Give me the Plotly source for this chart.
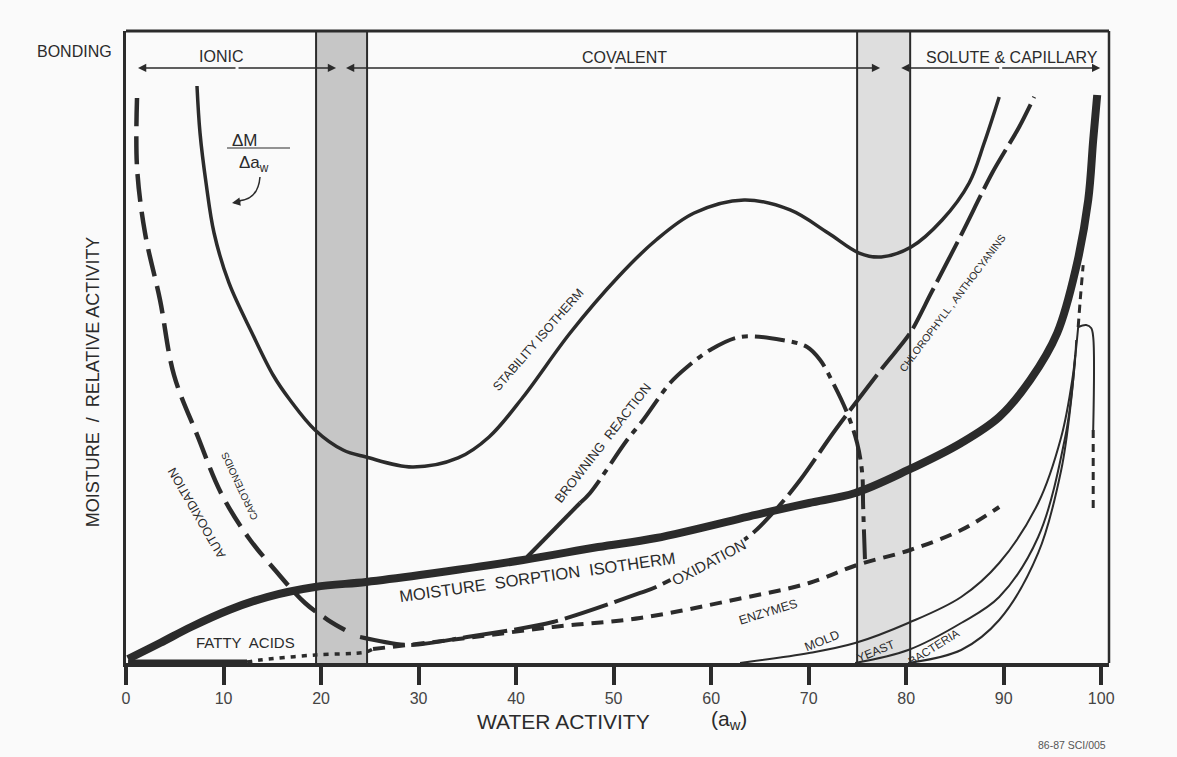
import plotly.graph_objects as go

INK = "#2b2b2b"
PAPER = "#fafafa"
FONT = "Liberation Sans, Arial, Helvetica, sans-serif"

# ---- x axis ticks ----
tick_vals = [0, 10, 20, 30, 40, 50, 60, 70, 80, 90, 100]
tick_text = ["0", "10", "20", "30", "40", "50", "60", "70", "80", "90", "100"]

# ---- curves (x = water activity %, y = relative scale 0-100) ----
iso_x = [0.21, 3.49, 6.67, 10.56, 14.46, 19.38, 24.62, 30.15, 40.72, 48.41, 54.36, 65.33, 70.05,
         74.77, 80.21, 85.64, 89.54, 92.72, 95.49, 97.44, 98.67, 99.18, 99.59]
iso_y = [0.63, 3.16, 5.70, 8.39, 10.44, 12.03, 12.82, 13.92, 16.30, 18.35, 19.78, 23.73, 25.32,
         26.90, 30.54, 34.81, 38.92, 44.78, 52.22, 62.66, 73.26, 82.75, 89.87]

stab_x = [7.28, 7.59, 8.21, 9.03, 10.56, 12.92, 15.08, 16.82, 19.38, 22.26, 24.62, 29.33, 34.05,
          37.23, 40.72, 45.54, 50.46, 54.36, 58.26, 63.38, 68.1, 72.0, 75.18, 77.44, 80.51,
          83.69, 86.46, 88.0, 89.54]
stab_y = [91.30, 83.86, 75.95, 68.04, 60.13, 52.22, 45.57, 41.61, 36.87, 33.70, 32.59, 31.01, 32.44,
          35.76, 42.09, 52.22, 61.08, 66.93, 71.20, 73.26, 71.68, 68.04, 64.87, 64.24, 65.82,
          70.09, 75.95, 82.28, 89.56]

autox_x = [1.13, 1.13, 1.95, 3.49, 4.92, 7.38, 9.74, 12.51, 15.28, 18.36, 20.72, 22.46]
autox_y = [89.40, 78.48, 68.04, 57.44, 45.57, 35.76, 26.90, 19.94, 14.72, 9.49, 6.80, 5.22]

oxid_x = [24.0, 28.92, 34.97, 43.79, 52.72, 54.36, 63.79, 66.87, 69.13, 72.51, 74.26, 77.64,
          80.41, 82.56, 85.74, 88.82, 91.59, 93.13]
oxid_y = [4.11, 2.85, 4.11, 6.49, 11.08, 12.03, 19.94, 24.68, 28.96, 36.39, 40.03, 46.84,
          52.22, 58.54, 68.04, 77.53, 84.81, 89.56]

brown_x = [41.13, 46.56, 47.59, 51.38, 53.03, 55.79, 57.54, 59.9, 62.97, 67.28, 69.85, 71.18,
           72.51, 73.95, 74.97, 75.49, 75.59, 75.79]
brown_y = [16.77, 25.32, 26.90, 35.28, 38.45, 44.30, 46.84, 49.53, 51.58, 51.11, 50.0, 47.94,
           44.30, 39.56, 34.81, 30.06, 24.68, 15.82]

enz_x = [25.33, 28.92, 34.97, 43.79, 52.72, 62.26, 70.05, 74.97, 80.41, 85.64, 89.54]
enz_y = [2.22, 2.85, 3.96, 5.70, 7.12, 9.97, 12.66, 15.51, 17.88, 21.04, 24.68]

fatty_solid_x = [0.21, 12.41]
fatty_solid_y = [0.16, 0.16]
fatty_dot_x = [12.41, 13.74, 19.38, 24.62, 25.33]
fatty_dot_y = [0.16, 0.47, 1.27, 1.74, 2.22]

mold_x = [62.97, 70.05, 74.77, 80.21, 85.64, 89.54, 93.54, 95.9, 97.03, 97.64]
mold_y = [0.0, 1.58, 3.16, 6.33, 10.44, 15.82, 25.32, 35.76, 44.78, 53.16]
yeast_x = [74.77, 80.21, 85.64, 89.54, 93.54, 96.31, 97.23, 97.44]
yeast_y = [0.0, 2.06, 6.33, 10.44, 19.94, 35.76, 46.36, 51.11]
bact_x = [80.21, 85.64, 89.54, 93.54, 95.9, 96.92, 97.33]
bact_y = [0.0, 2.06, 6.80, 17.41, 30.54, 41.61, 48.73]

loop_x = [97.64, 98.46, 98.97, 99.18, 99.18]
loop_y = [53.16, 53.48, 53.0, 51.58, 36.87]
loop_dash_x = [99.18, 99.18]
loop_dash_y = [36.87, 23.73]
top_dash_x = [97.64, 97.85, 98.15]
top_dash_y = [53.16, 57.44, 62.97]

# ---- shaded transition bands ----
band_left = [19.49, 24.72]
band_right = [74.97, 80.41]

# ---- header (bonding) ----
bond_y = 94.15
bond_segments = [(1.23, 21.54), (22.56, 77.33), (79.49, 99.9)]
header_labels = ["IONIC", "COVALENT", "SOLUTE & CAPILLARY"]
header_x = [9.74, 51.08, 90.87]
header_y = [95.89, 95.73, 95.73]

# ---- in-plot labels: text, x, y, angle, size ----
labels = ["AUTOOXIDATION", "CAROTENOIDS", "STABILITY ISOTHERM", "BROWNING  REACTION",
          "MOISTURE  SORPTION  ISOTHERM", "OXIDATION", "ENZYMES", "MOLD", "YEAST", "BACTERIA",
          "CHLOROPHYLL , ANTHOCYANINS", "FATTY  ACIDS"]
label_x = [7.28, 11.59, 42.26, 48.82, 42.15, 59.69, 65.85, 71.38, 76.92, 82.87, 84.72, 12.21]
label_y = [23.73, 28.0, 51.11, 34.81, 13.61, 15.98, 8.07, 3.48, 1.90, 2.53, 56.96, 3.32]
label_angle = [-120, -115, -49, -52, -8, -28, -17, -22, -22, -32, -53, 0]
label_size = [12.5, 10, 12.5, 13, 16.5, 15, 12.5, 12.5, 12, 11.5, 10.5, 15]

# ---- texts outside the plotting area (paper fractions) ----
outer_labels = ["BONDING", "MOISTURE  /  RELATIVE ACTIVITY", "WATER ACTIVITY",
                "(a<sub>w</sub>)", "86-87 SCI/005"]
outer_x = [-0.052, -0.034, 0.445, 0.613, 0.962]
outer_y = [0.967, 0.445, -0.093, -0.090, -0.130]
outer_angle = [0, -90, 0, 0, 0]
outer_size = [16, 18, 21, 21, 10.5]

fig = go.Figure()

def add_line(x, y, width, dash="solid", shape="spline", smoothing=1.0):
    fig.add_trace(go.Scatter(
        x=x, y=y, mode="lines",
        line=dict(color=INK, width=width, dash=dash, shape=shape,
                  smoothing=smoothing if shape == "spline" else None),
        hoverinfo="skip", showlegend=False))

add_line(stab_x, stab_y, 3.5)
add_line(autox_x, autox_y, 4.5, dash="28px,10px")
add_line(oxid_x, oxid_y, 4.0, dash="45px,7px", smoothing=0.8)
add_line(brown_x[:2], brown_y[:2], 4.0, shape="linear")
add_line(brown_x[1:], brown_y[1:], 4.0, dash="30px,7px,6px,7px")
add_line(enz_x, enz_y, 4.0, dash="12px,8px")
add_line(fatty_solid_x, fatty_solid_y, 5.0, shape="linear")
add_line(fatty_dot_x, fatty_dot_y, 3.5, dash="5px,6px")
add_line(mold_x, mold_y, 2.0)
add_line(yeast_x, yeast_y, 2.0)
add_line(bact_x, bact_y, 2.0)
add_line(loop_x, loop_y, 2.0)
add_line(loop_dash_x, loop_dash_y, 3.0, dash="8px,6px", shape="linear")
add_line(top_dash_x, top_dash_y, 3.0, dash="8px,6px")
add_line(iso_x, iso_y, 8.0)

shapes = []
for (b0, b1), col in ((band_left, "#c6c6c6"), (band_right, "#dedede")):
    shapes.append(dict(type="rect", xref="x", yref="y", x0=b0, x1=b1, y0=0, y1=100,
                       fillcolor=col, line=dict(width=0), layer="below"))
    for bx in (b0, b1):
        shapes.append(dict(type="line", xref="x", yref="y", x0=bx, x1=bx, y0=0, y1=100,
                           line=dict(color=INK, width=2)))
# frame top & right
shapes.append(dict(type="line", xref="paper", yref="paper", x0=0, x1=1, y0=1, y1=1,
                   line=dict(color=INK, width=3)))
shapes.append(dict(type="line", xref="paper", yref="paper", x0=1, x1=1, y0=0, y1=1,
                   line=dict(color=INK, width=2.5)))
# delta M fraction bar and curved pointer
shapes.append(dict(type="line", xref="x", yref="y", x0=10.36, x1=16.82, y0=81.49, y1=81.49,
                   line=dict(color=INK, width=1.2)))
shapes.append(dict(type="path", xref="x", yref="y",
                   path="M 13.74,76.9 Q 13.54,73.26 11.49,73.1",
                   line=dict(color=INK, width=1.5)))

annotations = []
for xs, xe in bond_segments:
    mid = (xs + xe) / 2
    for end in (xs, xe):
        annotations.append(dict(x=end, y=bond_y, ax=mid, ay=bond_y, xref="x", yref="y",
                                axref="x", ayref="y", text="", showarrow=True,
                                arrowhead=2, arrowsize=1.1, arrowwidth=1.5, arrowcolor=INK))
annotations.append(dict(x=10.87, y=72.78, ax=11.9, ay=73.05, xref="x", yref="y",
                        axref="x", ayref="y", text="", showarrow=True,
                        arrowhead=2, arrowsize=1.1, arrowwidth=1.5, arrowcolor=INK))

for t, hx, hy in zip(header_labels, header_x, header_y):
    annotations.append(dict(x=hx, y=hy, xref="x", yref="y", text=t, showarrow=False,
                            font=dict(size=16, color=INK, family=FONT)))

for t, lx, ly, ang, sz in zip(labels, label_x, label_y, label_angle, label_size):
    a = dict(x=lx, y=ly, xref="x", yref="y", text=t, showarrow=False, textangle=ang,
             font=dict(size=sz, color=INK, family=FONT))
    if t == "OXIDATION":
        a["bgcolor"] = PAPER
    annotations.append(a)

annotations.append(dict(x=12.21, y=82.75, xref="x", yref="y", text="ΔM", showarrow=False,
                        font=dict(size=17, color=INK, family=FONT)))
annotations.append(dict(x=13.13, y=78.9, xref="x", yref="y", text="Δa<sub>w</sub>",
                        showarrow=False, font=dict(size=17, color=INK, family=FONT)))

for t, ox, oy, ang, sz in zip(outer_labels, outer_x, outer_y, outer_angle, outer_size):
    annotations.append(dict(x=ox, y=oy, xref="paper", yref="paper", text=t, showarrow=False,
                            textangle=ang, xanchor="center", yanchor="middle",
                            font=dict(size=sz, color=INK if sz > 11 else "#555", family=FONT)))

fig.update_layout(
    width=1177, height=757, autosize=False,
    margin=dict(l=126, r=68, t=31, b=94),
    paper_bgcolor=PAPER, plot_bgcolor=PAPER,
    shapes=shapes, annotations=annotations,
    xaxis=dict(range=[0, 100.8], showgrid=False, zeroline=False, showline=True,
               linewidth=3.5, linecolor=INK, ticks="outside", ticklen=18, tickwidth=4,
               tickcolor=INK, tickvals=tick_vals, ticktext=tick_text,
               tickfont=dict(size=16, color="#444", family=FONT), fixedrange=True),
    yaxis=dict(range=[0, 100], showgrid=False, zeroline=False, showline=True,
               linewidth=3, linecolor=INK, ticks="", showticklabels=False, fixedrange=True),
)

fig.write_html("out.html")
